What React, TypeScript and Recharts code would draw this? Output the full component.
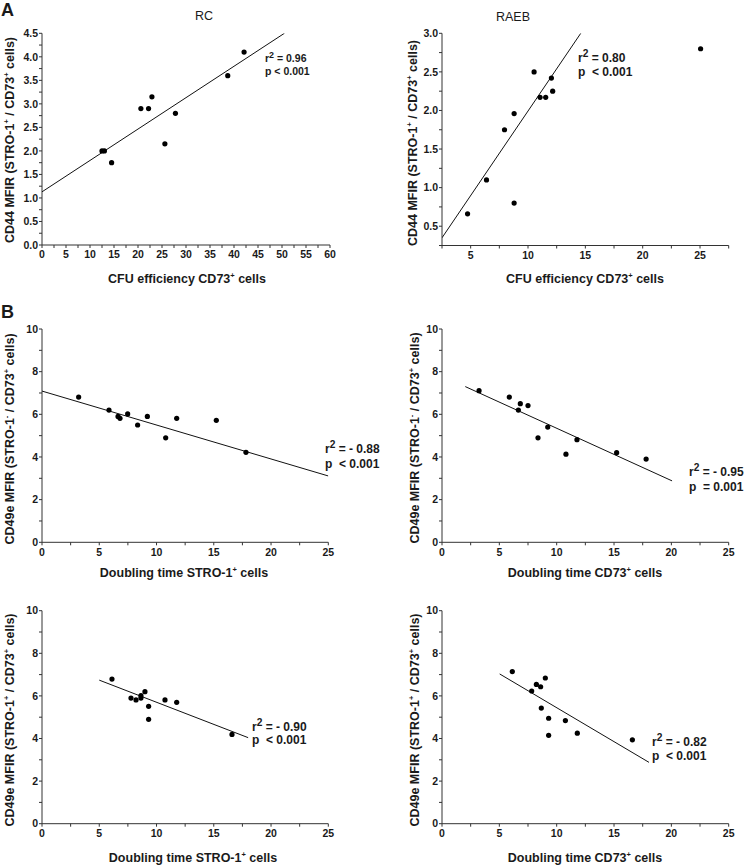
import React from 'react';
import { ScatterChart, Scatter, XAxis, YAxis } from 'recharts';

const FONT = '"Liberation Sans", Arial, Helvetica, sans-serif';

// ---------- Panel A: RC ----------
const rcCfu = [12.5, 13.0, 14.5, 20.6, 22.2, 22.9, 25.6, 27.8, 38.7, 42.1];
const rcCd44 = [2.0, 2.0, 1.75, 2.9, 2.9, 3.15, 2.15, 2.8, 3.6, 4.1];
const rcFitX = [0, 50.5];
const rcFitY = [1.13, 4.5];
const rcXMajor = [0, 5, 10, 15, 20, 25, 30, 35, 40, 45, 50, 55, 60];
const rcYMajor = [0, 0.5, 1.0, 1.5, 2.0, 2.5, 3.0, 3.5, 4.0, 4.5];

// ---------- Panel A: RAEB ----------
const raebCfu = [4.73, 6.38, 7.95, 8.79, 8.79, 10.53, 11.05, 11.54, 12.04, 12.15, 25.05];
const raebCd44 = [0.66, 1.1, 1.75, 1.96, 0.8, 2.5, 2.17, 2.17, 2.42, 2.25, 2.8];
const raebFitX = [2.5, 14.6];
const raebFitY = [0.35, 3.0];
const raebXMajor = [5, 10, 15, 20, 25];
const raebYMajor = [0.5, 1.0, 1.5, 2.0, 2.5, 3.0];

// ---------- Panel B: top-left ----------
const b1Dt = [3.2, 5.85, 6.64, 6.81, 7.48, 8.35, 9.2, 10.8, 11.76, 15.22, 17.81];
const b1Cd49 = [6.81, 6.2, 5.9, 5.81, 6.02, 5.5, 5.9, 4.9, 5.81, 5.72, 4.22];
const b1FitX = [0, 25];
const b1FitY = [7.09, 3.11];

// ---------- Panel B: top-right ----------
const b2Dt = [3.23, 5.87, 6.66, 6.83, 7.5, 8.37, 9.22, 10.81, 11.77, 15.23, 17.8];
const b2Cd49 = [7.11, 6.81, 6.2, 6.5, 6.41, 4.9, 5.4, 4.13, 4.81, 4.2, 3.9];
const b2FitX = [2.03, 20.06];
const b2FitY = [7.3, 2.88];

// ---------- Panel B: bottom-left ----------
const b3Dt = [6.11, 7.77, 8.21, 8.64, 8.64, 8.99, 9.31, 9.31, 10.74, 11.76, 16.59];
const b3Cd49 = [6.79, 5.9, 5.81, 6.01, 5.9, 6.2, 5.51, 4.9, 5.81, 5.7, 4.19];
const b3FitX = [5.0, 18.0];
const b3FitY = [6.74, 4.04];

// ---------- Panel B: bottom-right ----------
const b4Dt = [6.13, 7.82, 8.23, 8.6, 9.01, 8.66, 9.3, 9.3, 10.76, 11.8, 16.6];
const b4Cd49 = [7.14, 6.23, 6.54, 6.43, 6.84, 5.43, 4.95, 4.15, 4.84, 4.25, 3.94];
const b4FitX = [5.03, 18.05];
const b4FitY = [7.03, 2.88];

const bXMajor = [0, 5, 10, 15, 20, 25];
const bYMajor = [0, 2, 4, 6, 8, 10];

type Pt = { x: number; y: number };
const zip = (xs: number[], ys: number[]): Pt[] => xs.map((x, i) => ({ x, y: ys[i] }));

const round6 = (v: number) => Math.round(v * 1e6) / 1e6;

function withMinor(major: number[], lo: number, hi: number): number[] {
  const half = (major[1] - major[0]) / 2;
  const start = major[0] - half * Math.floor((major[0] - lo) / half + 1e-9);
  const out: number[] = [];
  for (let v = start; v <= hi + 1e-9; v += half) out.push(round6(v));
  return out;
}

const isIn = (arr: number[], v: number) => arr.some((a) => Math.abs(a - v) < 1e-6);

type PanelProps = {
  svgX: number;
  svgY: number;
  svgW: number;
  svgH: number;
  x0: number;
  x1: number;
  y0: number;
  y1: number;
  xDomain: [number, number];
  yDomain: [number, number];
  xMajor: number[];
  yMajor: number[];
  yDigits: number;
  pts: Pt[];
  fit: Pt[];
};

function Panel(p: PanelProps) {
  const yAxisW = 30;
  const xAxisH = 20;
  const margin = {
    left: p.x0 - p.svgX - yAxisW,
    right: p.svgX + p.svgW - p.x1,
    top: p.y0 - p.svgY,
    bottom: p.svgY + p.svgH - p.y1 - xAxisH,
  };
  const xTicks = withMinor(p.xMajor, p.xDomain[0], p.xDomain[1]);
  const yTicks = withMinor(p.yMajor, p.yDomain[0], p.yDomain[1]);
  const xTick = (props: any) => {
    const { x, y, payload } = props;
    if (!isIn(p.xMajor, payload.value)) return <g />;
    return (
      <text x={x} y={y} dy="0.71em" textAnchor="middle" fontSize={10.5} fontWeight="bold" fill="#1a1a1a" fontFamily={FONT}>
        {String(payload.value)}
      </text>
    );
  };
  const yTick = (props: any) => {
    const { x, y, payload } = props;
    if (!isIn(p.yMajor, payload.value)) return <g />;
    return (
      <text x={x} y={y} dy="0.355em" textAnchor="end" fontSize={10.5} fontWeight="bold" fill="#1a1a1a" fontFamily={FONT}>
        {Number(payload.value).toFixed(p.yDigits)}
      </text>
    );
  };
  return (
    <div style={{ position: 'absolute', left: p.svgX, top: p.svgY }}>
      <ScatterChart width={p.svgW} height={p.svgH} margin={margin}>
        <XAxis
          type="number"
          dataKey="x"
          domain={p.xDomain}
          ticks={xTicks}
          interval={0}
          allowDataOverflow
          height={xAxisH}
          tickSize={3}
          tickMargin={3}
          axisLine={{ stroke: '#333', strokeWidth: 1 }}
          tickLine={{ stroke: '#333', strokeWidth: 1 }}
          tick={xTick}
        />
        <YAxis
          type="number"
          dataKey="y"
          domain={p.yDomain}
          ticks={yTicks}
          interval={0}
          allowDataOverflow
          width={yAxisW}
          tickSize={3}
          tickMargin={1}
          axisLine={{ stroke: '#333', strokeWidth: 1 }}
          tickLine={{ stroke: '#333', strokeWidth: 1 }}
          tick={yTick}
        />
        <Scatter
          data={p.fit}
          line={{ stroke: '#111', strokeWidth: 1 }}
          shape={() => <g />}
          isAnimationActive={false}
          legendType="none"
        />
        <Scatter
          data={p.pts}
          shape={(s: any) => <circle cx={s.cx} cy={s.cy} r={2.6} fill="#000" />}
          isAnimationActive={false}
          legendType="none"
        />
      </ScatterChart>
    </div>
  );
}

const base: React.CSSProperties = {
  position: 'absolute',
  fontFamily: FONT,
  color: '#1a1a1a',
  whiteSpace: 'pre',
  lineHeight: 1,
};

const supS: React.CSSProperties = { fontSize: '0.6em', verticalAlign: '0.7em', lineHeight: 0 };
const sup2: React.CSSProperties = { fontSize: '0.85em', verticalAlign: '0.45em', lineHeight: 0 };

function YLabel({ cx, cy, children }: { cx: number; cy: number; children: React.ReactNode }) {
  return (
    <div
      style={{
        ...base,
        left: cx,
        top: cy,
        fontSize: 12.5,
        fontWeight: 'bold',
        transform: 'translate(-50%, -50%) rotate(-90deg)',
      }}
    >
      {children}
    </div>
  );
}

function XLabel({ cx, cy, children }: { cx: number; cy: number; children: React.ReactNode }) {
  return (
    <div style={{ ...base, left: cx, top: cy, fontSize: 12.5, fontWeight: 'bold', transform: 'translate(-50%, -50%)' }}>
      {children}
    </div>
  );
}

function Stat({ x, y1, y2, r, p, size }: { x: number; y1: number; y2: number; r: string; p: string; size: number }) {
  return (
    <>
      <div style={{ ...base, left: x, top: y1, fontSize: size, fontWeight: 'bold', transform: 'translateY(-50%)' }}>
        r<span style={sup2}>2</span>
        {' = ' + r}
      </div>
      <div style={{ ...base, left: x, top: y2, fontSize: size, fontWeight: 'bold', transform: 'translateY(-50%)' }}>
        {p}
      </div>
    </>
  );
}

const cd44Label = (
  <>
    CD44 MFIR (STRO-1<span style={supS}>+</span> / CD73<span style={supS}>+</span> cells)
  </>
);
const cd49MinusLabel = (
  <>
    CD49e MFIR (STRO-1<span style={supS}>-</span> / CD73<span style={supS}>+</span> cells)
  </>
);
const cd49PlusLabel = (
  <>
    CD49e MFIR (STRO-1<span style={supS}>+</span> / CD73<span style={supS}>+</span> cells)
  </>
);
const cfuLabel = (
  <>
    CFU efficiency CD73<span style={supS}>+</span> cells
  </>
);
const dtStroLabel = (
  <>
    Doubling time STRO-1<span style={supS}>+</span> cells
  </>
);
const dtCd73Label = (
  <>
    Doubling time CD73<span style={supS}>+</span> cells
  </>
);

export default function App() {
  return (
    <div style={{ position: 'absolute', left: 0, top: 0, width: 746, height: 866, background: '#fff', overflow: 'hidden' }}>
      <Panel
        svgX={0} svgY={0} svgW={373} svgH={290}
        x0={42} x1={330} y0={33.3} y1={245}
        xDomain={[0, 60]} yDomain={[0, 4.5]}
        xMajor={rcXMajor} yMajor={rcYMajor} yDigits={1}
        pts={zip(rcCfu, rcCd44)} fit={zip(rcFitX, rcFitY)}
      />
      <Panel
        svgX={373} svgY={0} svgW={373} svgH={290}
        x0={442} x1={728.7} y0={33.3} y1={245.5}
        xDomain={[2.5, 27.5]} yDomain={[0.25, 3.0]}
        xMajor={raebXMajor} yMajor={raebYMajor} yDigits={1}
        pts={zip(raebCfu, raebCd44)} fit={zip(raebFitX, raebFitY)}
      />
      <Panel
        svgX={0} svgY={290} svgW={373} svgH={290}
        x0={42} x1={328.3} y0={329} y1={542.3}
        xDomain={[0, 25]} yDomain={[0, 10]}
        xMajor={bXMajor} yMajor={bYMajor} yDigits={0}
        pts={zip(b1Dt, b1Cd49)} fit={zip(b1FitX, b1FitY)}
      />
      <Panel
        svgX={373} svgY={290} svgW={373} svgH={290}
        x0={442} x1={728.7} y0={329} y1={542.3}
        xDomain={[0, 25]} yDomain={[0, 10]}
        xMajor={bXMajor} yMajor={bYMajor} yDigits={0}
        pts={zip(b2Dt, b2Cd49)} fit={zip(b2FitX, b2FitY)}
      />
      <Panel
        svgX={0} svgY={580} svgW={373} svgH={286}
        x0={42} x1={328.3} y0={610.7} y1={823.7}
        xDomain={[0, 25]} yDomain={[0, 10]}
        xMajor={bXMajor} yMajor={bYMajor} yDigits={0}
        pts={zip(b3Dt, b3Cd49)} fit={zip(b3FitX, b3FitY)}
      />
      <Panel
        svgX={373} svgY={580} svgW={373} svgH={286}
        x0={442} x1={728.7} y0={610.7} y1={823.7}
        xDomain={[0, 25]} yDomain={[0, 10]}
        xMajor={bXMajor} yMajor={bYMajor} yDigits={0}
        pts={zip(b4Dt, b4Cd49)} fit={zip(b4FitX, b4FitY)}
      />

      {/* Section letters and titles */}
      <div style={{ ...base, left: 1, top: 1, fontSize: 18, fontWeight: 'bold' }}>A</div>
      <div style={{ ...base, left: 1, top: 303, fontSize: 18, fontWeight: 'bold' }}>B</div>
      <div style={{ ...base, left: 204, top: 16, fontSize: 12.5, transform: 'translate(-50%, -50%)' }}>RC</div>
      <div style={{ ...base, left: 513, top: 17, fontSize: 12.5, transform: 'translate(-50%, -50%)' }}>RAEB</div>

      {/* Axis titles */}
      <YLabel cx={10} cy={140}>{cd44Label}</YLabel>
      <YLabel cx={413} cy={143}>{cd44Label}</YLabel>
      <YLabel cx={10} cy={439}>{cd49MinusLabel}</YLabel>
      <YLabel cx={415} cy={438}>{cd49MinusLabel}</YLabel>
      <YLabel cx={10} cy={720}>{cd49PlusLabel}</YLabel>
      <YLabel cx={415} cy={720}>{cd49PlusLabel}</YLabel>

      <XLabel cx={187} cy={279}>{cfuLabel}</XLabel>
      <XLabel cx={585} cy={279}>{cfuLabel}</XLabel>
      <XLabel cx={184} cy={573}>{dtStroLabel}</XLabel>
      <XLabel cx={585} cy={573}>{dtCd73Label}</XLabel>
      <XLabel cx={193} cy={858}>{dtStroLabel}</XLabel>
      <XLabel cx={585} cy={858}>{dtCd73Label}</XLabel>

      {/* Statistics */}
      <Stat x={265} y1={58} y2={71} r="0.96" p="p < 0.001" size={10.5} />
      <Stat x={578} y1={58} y2={72} r="0.80" p="p  < 0.001" size={12} />
      <Stat x={325} y1={449} y2={463.5} r="- 0.88" p="p  < 0.001" size={12} />
      <Stat x={689} y1={472} y2={486.5} r="- 0.95" p="p  = 0.001" size={12} />
      <Stat x={252} y1={726.5} y2={740} r="- 0.90" p="p  < 0.001" size={12} />
      <Stat x={652} y1={742} y2={756} r="- 0.82" p="p  < 0.001" size={12} />
    </div>
  );
}
